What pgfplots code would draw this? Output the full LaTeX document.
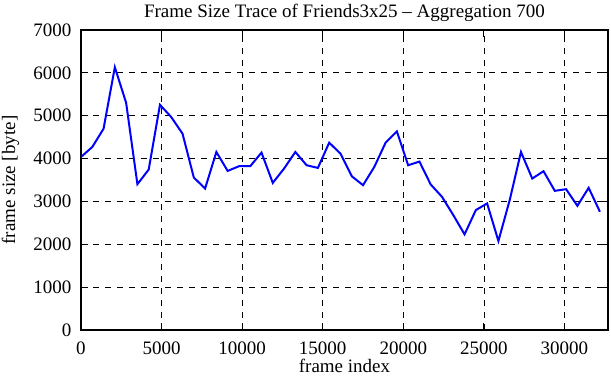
\documentclass[border=0pt]{standalone}
\usepackage{fontspec}
\setmainfont{Liberation Serif}
\usepackage{pgfplots}
\pgfplotsset{compat=1.18}
\begin{document}
\fontsize{19}{23}\selectfont
\begin{tikzpicture}
\begin{axis}[
  scale only axis,
  width=527pt, height=300pt,
  xmin=0, xmax=32700, ymin=0, ymax=7000,
  xtick={0,5000,...,30000},
  ytick={0,1000,...,7000},
  scaled x ticks=false, scaled y ticks=false,
  /pgf/number format/assume math mode=true,
  /pgf/number format/1000 sep={},
  xticklabel={\pgfmathprintnumber{\tick}},
  yticklabel={\pgfmathprintnumber{\tick}},
  xticklabel style={yshift=-5pt},
  yticklabel style={xshift=-3pt},
  tick align=inside,
  major tick length=7pt,
  tick style={black, line width=1pt},
  axis line style={line width=1.3pt},
  grid=major,
  major grid style={black, line width=0.8pt, dash pattern=on 6pt off 6pt},
  title={Frame Size Trace of Friends3x25 -- Aggregation 700},
  xlabel={frame index},
  ylabel={frame size [byte]},
  every axis title/.append style={yshift=-4pt},
  xlabel style={at={(axis description cs:0.5,0)}, anchor=base, yshift=-42pt},
  ylabel style={at={(axis description cs:-0.1252,0.5)}, anchor=base},
]
\coordinate (O) at (axis cs:0,0);
\addplot[blue, line width=2pt, mark=none] coordinates {
(0,4038) (700,4270) (1400,4697) (2100,6131) (2800,5302) (3500,3402)
(4200,3743) (4900,5255) (5600,4968) (6300,4581) (7000,3557) (7700,3302)
(8400,4154) (9100,3712) (9800,3821) (10500,3821) (11200,4139) (11900,3433)
(12600,3767) (13300,4154) (14000,3844) (14700,3782) (15400,4371) (16100,4116)
(16800,3588) (17500,3379) (18200,3806) (18900,4371) (19600,4635) (20300,3844)
(21000,3930) (21700,3395) (22400,3108) (23100,2681) (23800,2232) (24500,2798)
(25200,2953) (25900,2077) (26600,3030) (27300,4154) (28000,3534) (28700,3705)
(29400,3247) (30100,3286) (30800,2898) (31500,3317) (32200,2759)
};
\end{axis}
\pgfresetboundingbox
\path (O) ++(-81pt,-50pt) rectangle ++(611pt,380pt);
\end{tikzpicture}
\end{document}
